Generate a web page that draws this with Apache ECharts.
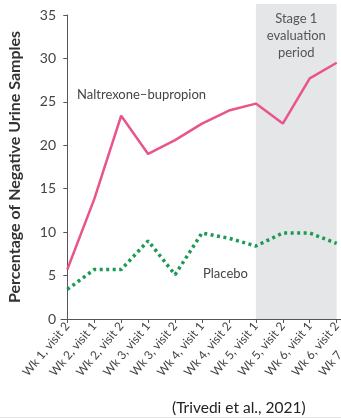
<!DOCTYPE html>
<html>
<head>
<meta charset="utf-8">
<script src="https://cdn.jsdelivr.net/npm/echarts@6/dist/echarts.min.js"></script>
<style>
  html, body { margin: 0; padding: 0; background: #fff; }
  #chart { width: 341px; height: 418px; }
</style>
</head>
<body>
<div id="chart"></div>
<script>
// Visit labels along the x axis
const categories = [
  'Wk 1, visit 2', 'Wk 2, visit 1', 'Wk 2, visit 2', 'Wk 3, visit 1',
  'Wk 3, visit 2', 'Wk 4, visit 1', 'Wk 4, visit 2', 'Wk 5, visit 1',
  'Wk 5, visit 2', 'Wk 6, visit 1', 'Wk 6, visit 2', 'Wk 7, visit 1'
];
// Percentage of negative urine samples per visit
const naltrexone = [5.7, 13.8, 23.4, 19.0, 20.6, 22.5, 24.0, 24.8, 22.5, 27.7, 29.5];
const placebo    = [3.4, 5.7, 5.7, 9.0, 5.1, 9.9, 9.3, 8.4, 9.9, 9.9, 8.7];
// Y axis ticks
const yTicks = [0, 5, 10, 15, 20, 25, 30, 35];
// Stage 1 evaluation window (visit indices)
const stageStart = 7;
const stageEnd = 10;

const FONT = 'Lato';
const visitIdx = categories.map((_, i) => i);
const toPairs = arr => arr.map((v, i) => [i, v]);

const X_MIN = -0.234;
const X_MAX = 11.2;
const PLOT_W = 308;

const chart = echarts.init(document.getElementById('chart'), null, { renderer: 'canvas' });
chart.setOption({
  animation: false,
  backgroundColor: '#fff',
  grid: [
    { left: 61, top: 15, bottom: 99, width: PLOT_W, containLabel: false, outerBoundsMode: 'none', z: 2 },
    // backdrop grid for the shaded evaluation window (reaches a bit above the top tick)
    { left: 61, top: 4, bottom: 99, width: PLOT_W, containLabel: false, outerBoundsMode: 'none', z: 0 }
  ],
  xAxis: [
    {
      type: 'value',
      gridIndex: 0,
      min: X_MIN,
      max: X_MAX,
      axisLine: { show: true, onZero: false, lineStyle: { color: '#555', width: 1 } },
      axisTick: { show: true, length: 4, lineStyle: { color: '#555' }, customValues: visitIdx },
      axisLabel: {
        customValues: visitIdx,
        rotate: 50,
        margin: 5,
        fontFamily: FONT,
        fontSize: 12,
        color: '#444',
        formatter: v => categories[Math.round(v)] || ''
      },
      splitLine: { show: false }
    },
    {
      type: 'value', gridIndex: 1, min: X_MIN, max: X_MAX, show: false
    }
  ],
  yAxis: [
    {
      type: 'value',
      gridIndex: 0,
      min: 0,
      max: 35,
      interval: 5,
      name: 'Percentage of Negative Urine Samples',
      nameLocation: 'middle',
      nameGap: 38,
      nameTextStyle: { fontFamily: FONT, fontSize: 16, fontWeight: 'bold', color: '#333' },
      axisLine: { show: true, lineStyle: { color: '#555', width: 1 } },
      axisTick: { show: true, length: 4, lineStyle: { color: '#555' } },
      axisLabel: {
        fontFamily: FONT, fontSize: 14, color: '#444', margin: 5,
        formatter: v => (yTicks.includes(v) ? String(v) : '')
      },
      splitLine: { show: false }
    },
    { type: 'value', gridIndex: 1, min: 0, max: 1, show: false }
  ],
  series: [
    {
      name: 'Stage 1 evaluation period',
      type: 'line',
      xAxisIndex: 1,
      yAxisIndex: 1,
      data: [],
      symbol: 'none',
      z: 0,
      markArea: {
        silent: true,
        itemStyle: { color: '#e5e6e8' },
        label: {
          show: true,
          position: 'insideTop',
          distance: 6,
          fontFamily: FONT,
          fontSize: 13,
          lineHeight: 17,
          color: '#555',
          align: 'center'
        },
        data: [[
          { name: 'Stage 1\nevaluation\nperiod', xAxis: stageStart, yAxis: 0 },
          { xAxis: stageEnd, yAxis: 1 }
        ]]
      }
    },
    {
      name: 'Naltrexone–bupropion',
      type: 'line',
      data: toPairs(naltrexone),
      symbol: 'none',
      z: 3,
      lineStyle: { color: '#e8558d', width: 2.5 }
    },
    {
      name: 'Placebo',
      type: 'line',
      data: toPairs(placebo),
      symbol: 'none',
      z: 3,
      lineStyle: { color: '#1a9a55', width: 3.5, type: [3, 3.5], cap: 'butt' }
    }
  ],
  graphic: [
    {
      type: 'text', left: 77, top: 88, z: 10,
      style: { text: 'Naltrexone–bupropion', font: '13px Lato', fill: '#444' }
    },
    {
      type: 'text', left: 203, top: 267, z: 10,
      style: { text: 'Placebo', font: '13px Lato', fill: '#444' }
    },
    {
      type: 'text', left: 172, top: 400, z: 10,
      style: { text: '(Trivedi et al., 2021)', font: '15.5px Lato', fill: '#222' }
    },
    {
      type: 'rect', left: 0, bottom: 0,
      shape: { width: 341, height: 1 },
      style: { fill: '#e6e6e6' }
    }
  ]
});
</script>
</body>
</html>
